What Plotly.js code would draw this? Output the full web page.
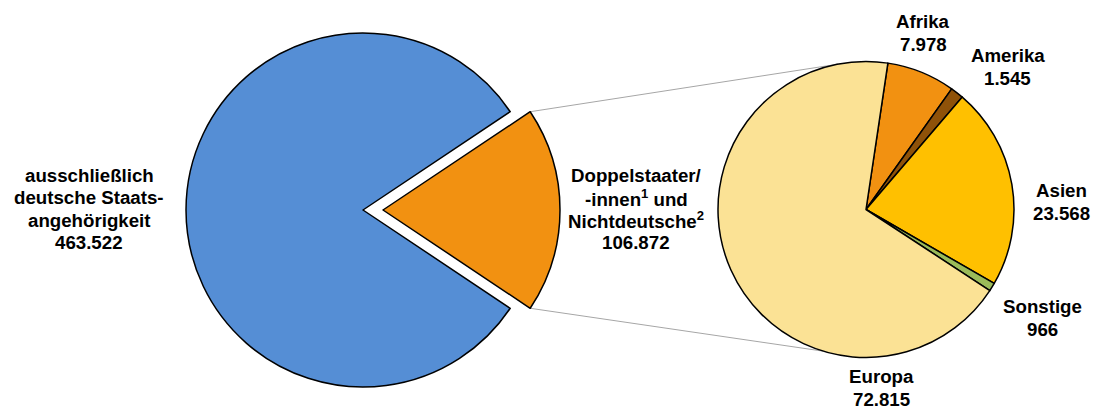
<!DOCTYPE html>
<html>
<head>
<meta charset="utf-8">
<script src="https://cdn.plot.ly/plotly-3.0.1.min.js"></script>
<style>html,body{margin:0;padding:0;background:#fff;}#chart{width:1093px;height:408px;}</style>
</head>
<body>
<div id="chart"></div>
<script>
// ---- data ----
const mainLabels = ['Doppelstaater/<br>-innen<sup>1</sup> und<br>Nichtdeutsche<sup>2</sup>', 'ausschließlich<br>deutsche Staats-<br>angehörigkeit'];
const mainValues = [106872, 463522];
const subLabels = ['Afrika', 'Amerika', 'Asien', 'Sonstige', 'Europa'];
const subValues = [7978, 1545, 23568, 966, 72815];

// ---- styles / layout ----
const W = 1093, H = 408;
const mainColors = ['#F29111', '#558ED5'];
const subColors = ['#F29111', '#8F5209', '#FFC000', '#9BBB59', '#FBE295'];
const mainGeom = {cx: 363, cy: 210, r: 177, pull: 0.113};
const subGeom = {cx: 866, cy: 209.5, r: 148};
const subRotation = 8.5;
const fontSize = 18.7;
const lineGap = 22.3;
// label anchors: [centre x, first baseline y] in px
const mainLabelPos = [[636, 181.7], [89, 182]];
const subLabelPos = [[923, 28.3], [1007.5, 62.3], [1061.5, 197.3], [1042.5, 313.3], [881.7, 383.3]];
// connector end angles on the small pie (deg, clockwise from 12 o'clock)
const connAngles = [-10.9, 196.8];

function fmt(n) {
  return String(n).replace(/\B(?=(\d{3})+(?!\d))/g, '.');
}
function domainFor(g, pull) {
  const half = g.r * (1 + (pull || 0));
  return {
    x: [(g.cx - half) / W, (g.cx + half) / W],
    y: [(H - (g.cy + half)) / H, (H - (g.cy - half)) / H]
  };
}

const mainTotal = mainValues.reduce((a, b) => a + b, 0);
const orangeDeg = mainValues[0] / mainTotal * 360;
const mainRotation = 90 - orangeDeg / 2;

const traces = [
  {
    type: 'pie', values: mainValues, labels: mainLabels, sort: false,
    direction: 'clockwise', rotation: mainRotation,
    pull: [mainGeom.pull, 0],
    marker: {colors: mainColors, line: {color: '#000', width: 1.5}},
    textinfo: 'none', hoverinfo: 'none', showlegend: false,
    domain: domainFor(mainGeom, mainGeom.pull)
  },
  {
    type: 'pie', values: subValues, labels: subLabels, sort: false,
    direction: 'clockwise', rotation: subRotation,
    marker: {colors: subColors, line: {color: '#000', width: 1.5}},
    textinfo: 'none', hoverinfo: 'none', showlegend: false,
    domain: domainFor(subGeom, 0)
  }
];

// annotations, one per text line
const annotations = [];
function addLabel(text, value, pos) {
  const lines = text.split('<br>').concat([fmt(value)]);
  lines.forEach((ln, i) => {
    const base = pos[1] + i * lineGap;
    annotations.push({
      xref: 'paper', yref: 'paper', x: pos[0] / W, y: 1 - (base - 0.3465 * fontSize) / H,
      xanchor: 'center', yanchor: 'middle', showarrow: false, text: ln,
      font: {family: 'Liberation Sans, Arial, sans-serif', size: fontSize, color: '#000', weight: 'bold'}
    });
  });
}
mainLabels.forEach((t, i) => addLabel(t, mainValues[i], mainLabelPos[i]));
subLabels.forEach((t, i) => addLabel(t, subValues[i], subLabelPos[i]));

// connector lines from pulled slice corners to small pie
const rad = Math.PI / 180;
const off = mainGeom.pull * mainGeom.r;
const midA = (mainRotation + orangeDeg / 2) * rad;
const ox = mainGeom.cx + off * Math.sin(midA), oy = mainGeom.cy - off * Math.cos(midA);
const cornerAngles = [mainRotation, mainRotation + orangeDeg];
const shapes = cornerAngles.map((a, i) => {
  const x0 = ox + mainGeom.r * Math.sin(a * rad), y0 = oy - mainGeom.r * Math.cos(a * rad);
  const b = connAngles[i] * rad;
  const x1 = subGeom.cx + subGeom.r * Math.sin(b), y1 = subGeom.cy - subGeom.r * Math.cos(b);
  return {type: 'line', xref: 'paper', yref: 'paper', layer: 'below',
    x0: x0 / W, y0: 1 - y0 / H, x1: x1 / W, y1: 1 - y1 / H,
    line: {color: '#A6A6A6', width: 1}};
});

Plotly.newPlot('chart', traces, {
  width: W, height: H, margin: {l: 0, r: 0, t: 0, b: 0},
  paper_bgcolor: '#fff', plot_bgcolor: '#fff',
  annotations: annotations, shapes: shapes
}, {staticPlot: true, displayModeBar: false});
</script>
</body>
</html>
